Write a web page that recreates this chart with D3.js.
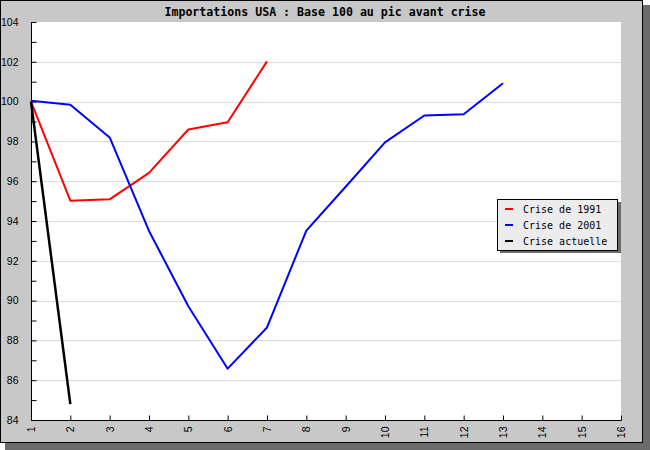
<!DOCTYPE html>
<html><head><meta charset="utf-8">
<script src="https://cdn.jsdelivr.net/npm/d3@7"></script>
<style>body{margin:0;background:#fff}svg{display:block}</style>
</head><body>
<svg id="c" width="650" height="450"></svg>
<script>
const title = "Importations USA : Base 100 au pic avant crise";
const xTicks = [1,2,3,4,5,6,7,8,9,10,11,12,13,14,15,16];
const yTicks = [84,86,88,90,92,94,96,98,100,102,104];
const seriesNames = ["Crise de 1991","Crise de 2001","Crise actuelle"];
const seriesColors = ["#ff0000","#0000ff","#000000"];
const crise1991 = [100, 95.02, 95.09, 96.42, 98.6, 98.96, 102.02];
const crise2001 = [100.04, 99.84, 98.2, 93.5, 89.72, 86.58, 88.65, 93.52, 95.72, 97.95, 99.3, 99.36, 100.92];
const criseActuelle = [100, 84.8];
const series = [crise1991, crise2001, criseActuelle];

const svg = d3.select("#c");
// frame with shadow
svg.append("rect").attr("x",5).attr("y",5).attr("width",645).attr("height",445).attr("fill","#6b6b6b");
svg.append("rect").attr("x",0.5).attr("y",0.5).attr("width",642).attr("height",442)
  .attr("fill","#c8c8c8").attr("stroke","#000");

const x = d3.scaleLinear().domain([1,16]).range([31,621]);
const y = d3.scaleLinear().domain([84,104]).range([420,22]);

svg.append("rect").attr("x",x(1)).attr("y",y(104)).attr("width",x(16)-x(1)).attr("height",y(84)-y(104)).attr("fill","#fff");

// grid
svg.append("g").selectAll("line").data(yTicks.filter(v=>v>84 && v<104)).join("line")
  .attr("x1",x(1)).attr("x2",x(16)).attr("y1",d=>Math.round(y(d))+0.5).attr("y2",d=>Math.round(y(d))+0.5)
  .attr("stroke","#dcdcdc").attr("stroke-width",1);

// y axis
const yAxis = d3.axisLeft(y).tickValues(d3.range(84,105,1)).tickSize(-5).tickPadding(13)
  .tickFormat(d=> d%2===0 ? d : "");
const gy = svg.append("g").attr("transform",`translate(${Math.round(x(1))+0.5},0)`).call(yAxis);
gy.select(".domain").remove();
gy.selectAll("line").attr("stroke","#000");
gy.selectAll("text").attr("font-family","Liberation Sans, Arial, sans-serif").attr("font-size",10.5).attr("fill","#000");
svg.append("line").attr("x1",Math.round(x(1))+0.5).attr("x2",Math.round(x(1))+0.5).attr("y1",y(104)).attr("y2",y(84)+0.5).attr("stroke","#000");

// x axis
const xAxis = d3.axisBottom(x).tickValues(xTicks).tickSize(-5).tickPadding(6).tickFormat(d=>d);
const gx = svg.append("g").attr("transform",`translate(0,${Math.round(y(84))+0.5})`).call(xAxis);
gx.select(".domain").remove();
gx.selectAll("line").attr("stroke","#000");
gx.selectAll("text").attr("font-family","Liberation Sans, Arial, sans-serif").attr("font-size",10.5).attr("fill","#000")
  .attr("text-anchor","end").attr("transform","rotate(-90)").attr("dy","0.32em").attr("x",-6).attr("y",0);
svg.append("line").attr("x1",x(1)).attr("x2",x(16)+0.5).attr("y1",Math.round(y(84))+0.5).attr("y2",Math.round(y(84))+0.5).attr("stroke","#000");

// lines
const line = d3.line().x((d,i)=>x(i+1)).y(d=>y(d));
series.forEach((s,i)=>{
  svg.append("path").datum(s).attr("d",line).attr("fill","none")
    .attr("stroke",seriesColors[i]).attr("stroke-width", i===2 ? 2.5 : 2).attr("stroke-linejoin","round");
});

// title
svg.append("text").attr("x",325).attr("y",16).attr("text-anchor","middle")
  .attr("font-family","DejaVu Sans Mono, monospace").attr("font-weight","bold").attr("font-size",11.6)
  .text(title);

// legend
const lg = svg.append("g");
lg.append("rect").attr("x",500).attr("y",202).attr("width",121).attr("height",51).attr("fill","#6b6b6b");
lg.append("rect").attr("x",497.5).attr("y",199.5).attr("width",120).attr("height",51).attr("fill","#ececec").attr("stroke","#000");
seriesNames.forEach((n,i)=>{
  const yy = 209 + i*16;
  lg.append("line").attr("x1",505).attr("x2",513).attr("y1",yy).attr("y2",yy).attr("stroke",seriesColors[i]).attr("stroke-width",2);
  lg.append("text").attr("x",523).attr("y",yy).attr("dy","0.35em")
    .attr("font-family","DejaVu Sans Mono, monospace").attr("font-size",10).text(n);
});
</script>
</body></html>
